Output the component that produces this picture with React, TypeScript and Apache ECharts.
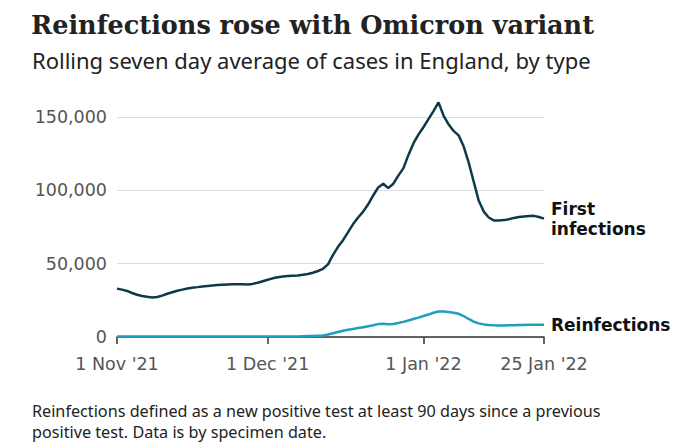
import React, { useEffect, useRef } from "react";
import * as echarts from "echarts";

const firstInfections = [
  33000, 32300, 31400, 30000, 28800, 28000, 27400, 27000, 27300, 28200,
  29500, 30500, 31500, 32300, 33100, 33600, 34000, 34500, 34800, 35100,
  35400, 35600, 35800, 35900, 36000, 35900, 35800, 36200, 37000, 38000,
  39000, 40000, 40800, 41300, 41600, 41800, 42000, 42400, 43000, 43800,
  45000, 46500, 49500, 56000, 61500, 66000, 71500, 77000, 81500, 85500,
  90500, 96500, 102000, 104500, 101500, 104500, 110000, 115000, 124000, 132000,
  138000, 143000, 148500, 154000, 160000, 151000, 145000, 140500, 137500, 130000,
  119000, 106000, 93000, 85500, 81500, 79500, 79500, 79700, 80300, 81200,
  81800, 82200, 82500, 82600, 81800, 80700,
];

const reinfections = [
  300, 300, 300, 300, 300, 300, 300, 300, 300, 300,
  300, 300, 300, 300, 300, 300, 300, 300, 300, 300,
  300, 300, 300, 300, 300, 300, 300, 300, 300, 300,
  300, 300, 300, 300, 350, 350, 400, 500, 600, 700,
  900, 1100, 1700, 2600, 3400, 4200, 4900, 5500, 6100, 6700,
  7300, 8000, 8800, 9100, 8700, 8800, 9500, 10300, 11300, 12300,
  13200, 14300, 15300, 16500, 17400, 17400, 17000, 16500, 15800, 14300,
  12300, 10500, 9300, 8600, 8200, 8000, 7900, 7900, 8000, 8000,
  8100, 8200, 8300, 8400, 8400, 8400,
];

const tickLabels: Record<number, string> = {
  0: "1 Nov '21",
  30: "1 Dec '21",
  61: "1 Jan '22",
  85: "25 Jan '22",
};

const yTicks = [0, 50000, 100000, 150000];

const startDate = new Date(2021, 10, 1);
const categories: string[] = firstInfections.map((_, i) => {
  const d = new Date(startDate.getTime());
  d.setDate(d.getDate() + i);
  return `${d.getFullYear()}-${d.getMonth() + 1}-${d.getDate()}`;
});

const SANS = "'Noto Sans', 'Open Sans', sans-serif";
const AXIS = "'DejaVu Sans', sans-serif";

export default function App() {
  const ref = useRef<HTMLDivElement>(null);
  useEffect(() => {
    if (!ref.current) return;
    const chart = echarts.init(ref.current, undefined, { renderer: "svg" });
    chart.setOption({
      animation: false,
      backgroundColor: "#ffffff",
      title: [
        {
          text: "Reinfections rose with Omicron variant",
          left: 26,
          top: 7,
          textStyle: {
            fontFamily: "'DejaVu Serif', serif",
            fontWeight: "bold",
            fontSize: 25.5,
            color: "#222222",
          },
        },
        {
          text: "Rolling seven day average of cases in England, by type",
          left: 27,
          top: 44,
          textStyle: {
            fontFamily: SANS,
            fontWeight: "normal",
            fontSize: 22,
            color: "#222222",
          },
        },
        {
          text:
            "Reinfections defined as a new positive test at least 90 days since a previous\npositive test. Data is by specimen date.",
          left: 27,
          top: 395,
          textStyle: {
            fontFamily: SANS,
            fontWeight: "normal",
            fontSize: 16.2,
            lineHeight: 21,
            color: "#222222",
          },
        },
      ],
      grid: {
        left: 117,
        right: 145,
        top: 117,
        bottom: 108,
        containLabel: false,
      },
      xAxis: {
        type: "category",
        data: categories,
        boundaryGap: false,
        axisLine: { show: true, lineStyle: { color: "#333333", width: 1.5 } },
        axisTick: {
          show: true,
          interval: (i: number) => tickLabels[i] !== undefined,
          length: 7,
          lineStyle: { color: "#333333", width: 1.5 },
        },
        axisLabel: {
          interval: (i: number) => tickLabels[i] !== undefined,
          formatter: (_v: string, i: number) => tickLabels[i] ?? "",
          fontFamily: AXIS,
          fontSize: 17.5,
          color: "#555555",
          margin: 18,
          showMinLabel: true,
          showMaxLabel: true,
        },
        splitLine: { show: false },
      },
      yAxis: {
        type: "value",
        min: 0,
        max: 150000,
        interval: 50000,
        axisLine: { show: false },
        axisTick: { show: false },
        axisLabel: {
          fontFamily: AXIS,
          fontSize: 17.5,
          color: "#555555",
          margin: 10,
          formatter: (v: number) =>
            yTicks.includes(v) ? v.toLocaleString("en-GB") : "",
        },
        splitLine: { show: true, lineStyle: { color: "#dddddd", width: 1 } },
      },
      series: [
        {
          name: "First infections",
          type: "line",
          data: firstInfections,
          showSymbol: false,
          symbol: "none",
          clip: false,
          lineStyle: { color: "#0d3a4b", width: 2.5 },
          itemStyle: { color: "#0d3a4b" },
          z: 3,
          endLabel: {
            show: true,
            formatter: "First\ninfections",
            distance: 7,
            fontFamily: AXIS,
            fontWeight: "bold",
            fontSize: 17,
            lineHeight: 20,
            color: "#111111",
          },
        },
        {
          name: "Reinfections",
          type: "line",
          data: reinfections,
          showSymbol: false,
          symbol: "none",
          clip: false,
          lineStyle: { color: "#1e9fba", width: 2.5 },
          itemStyle: { color: "#1e9fba" },
          z: 2,
          endLabel: {
            show: true,
            formatter: "Reinfections",
            distance: 7,
            fontFamily: AXIS,
            fontWeight: "bold",
            fontSize: 17,
            color: "#111111",
          },
        },
      ],
    });
    return () => chart.dispose();
  }, []);
  return (
    <div
      ref={ref}
      style={{ position: "fixed", left: 0, top: 0, width: 689, height: 445 }}
    />
  );
}
